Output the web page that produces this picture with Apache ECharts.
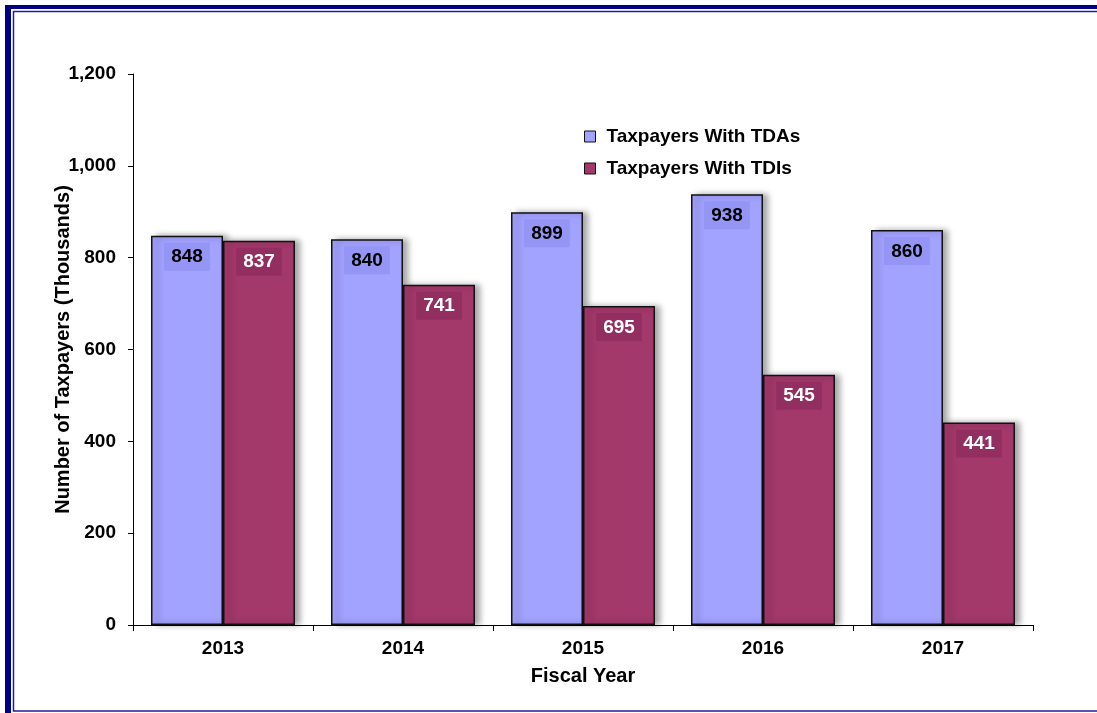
<!DOCTYPE html>
<html>
<head>
<meta charset="utf-8">
<script src="https://cdn.jsdelivr.net/npm/echarts@6/dist/echarts.min.js"></script>
<style>
  html, body { margin: 0; padding: 0; background: #fff; }
  #container { width: 1097px; height: 713px; }
</style>
</head>
<body>
<div id="container"></div>
<script>
var years = ['2013', '2014', '2015', '2016', '2017'];
var tdaValues = [848, 840, 899, 938, 860];
var tdiValues = [837, 741, 695, 545, 441];
var seriesNames = ['Taxpayers With TDAs', 'Taxpayers With TDIs'];

var dom = document.getElementById("container");
var myChart = echarts.init(dom);
var font = 'Liberation Sans, Arial, sans-serif';

function barLabel(textColor, boxColor) {
    return {
        show: true,
        position: 'insideTop',
        distance: 7,
        formatter: '{c}',
        color: textColor,
        fontFamily: font,
        fontWeight: 'bold',
        fontSize: 19,
        backgroundColor: boxColor,
        padding: [5, 7, 4, 7]
    };
}

var option = {
    backgroundColor: '#fff',
    animation: false,
    graphic: [
        { type: 'rect', shape: { x: 5, y: 5, width: 1200, height: 4 }, style: { fill: '#000080' } },
        { type: 'rect', shape: { x: 5, y: 5, width: 6, height: 710 }, style: { fill: '#000080' } },
        { type: 'rect', shape: { x: 13.5, y: 11.5, width: 1200, height: 699.5 }, style: { fill: 'none', stroke: '#1c1ca0', lineWidth: 1.5 } }
    ],
    grid: {
        left: 133,
        right: 64,
        top: 74,
        bottom: 88
    },
    legend: {
        orient: 'vertical',
        left: 579,
        top: 122,
        itemGap: 13,
        itemWidth: 11,
        itemHeight: 11,
        icon: 'rect',
        data: seriesNames,
        itemStyle: { borderColor: '#111', borderWidth: 1 },
        textStyle: { fontFamily: font, fontWeight: 'bold', fontSize: 19, color: '#000', padding: [0, 0, 0, 6] }
    },
    xAxis: {
        type: 'category',
        data: years,
        name: 'Fiscal Year',
        nameLocation: 'middle',
        nameGap: 41,
        nameTextStyle: { fontFamily: font, fontWeight: 'bold', fontSize: 20, color: '#000' },
        axisLine: { lineStyle: { color: '#000', width: 1 } },
        axisTick: { show: true, length: 6, lineStyle: { color: '#000' } },
        axisLabel: { fontFamily: font, fontWeight: 'bold', fontSize: 19, color: '#000', margin: 14 }
    },
    yAxis: {
        type: 'value',
        min: 0,
        max: 1200,
        interval: 200,
        name: 'Number of Taxpayers (Thousands)',
        nameLocation: 'middle',
        nameGap: 60,
        nameMoveOverlap: false,
        nameTextStyle: { fontFamily: font, fontWeight: 'bold', fontSize: 20, color: '#000' },
        axisLine: { show: true, lineStyle: { color: '#000', width: 1 } },
        axisTick: { show: true, length: 5, lineStyle: { color: '#000' } },
        splitLine: { show: false },
        axisLabel: {
            fontFamily: font, fontWeight: 'bold', fontSize: 19, color: '#000', margin: 17,
            formatter: function (v) { return v.toLocaleString('en-US'); }
        }
    },
    series: [
        {
            name: seriesNames[0],
            type: 'bar',
            data: tdaValues,
            barGap: '0%',
            barCategoryGap: '20%',
            itemStyle: {
                color: '#a2a2ff',
                borderColor: '#111',
                borderWidth: 1.5,
                shadowColor: 'rgba(0,0,0,0.35)',
                shadowBlur: 6,
                shadowOffsetX: 5,
                shadowOffsetY: 0
            },
            label: barLabel('#000', '#9595f5')
        },
        {
            name: seriesNames[1],
            type: 'bar',
            data: tdiValues,
            itemStyle: {
                color: '#a3386b',
                borderColor: '#111',
                borderWidth: 1.5,
                shadowColor: 'rgba(0,0,0,0.35)',
                shadowBlur: 6,
                shadowOffsetX: 5,
                shadowOffsetY: 0
            },
            label: barLabel('#fff', '#932f60')
        }
    ]
};

if (option && typeof option === "object") {
    myChart.setOption(option, true);
}
</script>
</body>
</html>
